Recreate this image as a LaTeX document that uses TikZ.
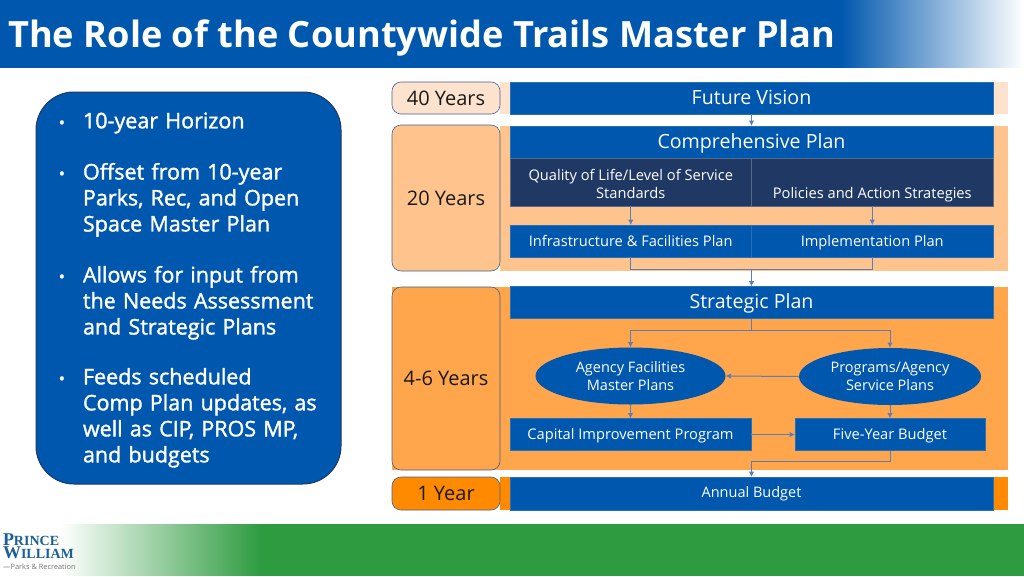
\documentclass[tikz,border=0pt]{standalone}
\usepackage{fontspec}
\setmainfont{Open Sans}
\newfontfamily\semib[FakeBold=1.5]{Open Sans}
\newfontfamily\logofont{Liberation Serif}
\usetikzlibrary{arrows.meta,shapes.geometric}
\definecolor{pwblue}{HTML}{0057AE}
\definecolor{pwdark}{HTML}{1F3864}
\definecolor{pwgreen}{HTML}{2E9B40}
\definecolor{linkc}{HTML}{5B7DB8}
\definecolor{logoc}{HTML}{1A5F96}
\definecolor{lbandA}{HTML}{FDE3CE}
\definecolor{lbandB}{HTML}{FFC48E}
\definecolor{lbandC}{HTML}{FFA54C}
\definecolor{lbandD}{HTML}{FF8A00}
\newcommand\hs[2]{\rule[-#2pt]{0pt}{\dimexpr #1pt+#2pt\relax}}
\tikzset{
  x=1pt,y=-1pt,
  sq/.style={rectangle,inner sep=0pt,outer sep=0pt,align=center,text=white,anchor=center},
  bluebox/.style={sq,fill=pwblue,draw=pwblue!85!white,line width=.3pt},
  darkbox/.style={sq,fill=pwdark,draw=pwdark!75!white,line width=.3pt},
  timebox/.style={rectangle,rounded corners=9pt,draw=linkc!75!black,line width=.6pt,inner sep=0pt,outer sep=0pt,
    minimum width=108pt,text=black!90,font=\fontsize{20}{24}\selectfont},
  plan/.style={ellipse,fill=pwblue,inner sep=0pt,outer sep=0pt,text=white,align=center,font=\fontsize{14.5}{18}\selectfont},
  link/.style={draw=linkc,line width=1pt},
  linka/.style={link,-{Latex[length=5.5pt,width=5.5pt]}},
  bl/.style={anchor=north west,inner sep=0pt,outer sep=0pt,text=white,align=left,text width=250pt,
    font=\semib\fontsize{21.5}{26}\selectfont},
  dot/.style={anchor=base,inner sep=0pt,text=white,font=\fontsize{18}{20}\selectfont},
  big/.style={font=\fontsize{19.6}{23}\selectfont},
  mid/.style={font=\fontsize{14.65}{18}\selectfont}
}
\begin{document}
\begin{tikzpicture}
\useasboundingbox (0,0) rectangle (1024,576);
\fill[white] (0,0) rectangle (1024,576);
% header
\fill[pwblue] (0,0) rectangle (841,68);
\begin{scope}
\clip (840,0) rectangle (1024,67.6);
\fill[left color=pwblue,right color=white] (840,-2) rectangle (1024,70);
\end{scope}
\node[anchor=base west,inner sep=0pt,text=white,font=\bfseries\fontsize{36.2}{40}\selectfont] (title) at (8,47) {The Role of the Countywide Trails Master Plan};
% footer
\fill[pwgreen] (260,524) rectangle (1024,576);
\begin{scope}
\clip (60,524) rectangle (261,575.6);
\fill[left color=white,right color=pwgreen] (60,522) rectangle (261,578);
\end{scope}
\node[anchor=north west,inner sep=0pt,outer sep=0pt,align=left,text=logoc,font=\logofont\bfseries\fontsize{18}{13}\selectfont] (lga) at (3,534) {P{\fontsize{14}{13}\selectfont RINCE}\\W{\fontsize{14}{13}\selectfont ILLIAM}};
\node[anchor=base west,inner sep=0pt,text=black!55,font=\fontsize{7.4}{8}\selectfont] (lgc) at (3,569.5) {—Parks \& Recreation};
% left panel
\draw[fill=pwblue,draw=pwdark,line width=1pt,rounded corners=38pt] (36,92) rectangle (341,484);
\node[bl] (b1) at (83,112.5) {10-year Horizon};
\node[bl] (b2) at (83,163) {Offset from 10-year\\Parks, Rec, and Open\\Space Master Plan};
\node[bl] (b3) at (83,266) {Allows for input from\\the Needs Assessment\\and Strategic Plans};
\node[bl] (b4) at (83,368) {Feeds scheduled\\Comp Plan updates, as\\well as CIP, PROS MP,\\and budgets};
\node[dot] (d1) at (62,129) {•};
\node[dot] (d2) at (62,180) {•};
\node[dot] (d3) at (62,283) {•};
\node[dot] (d4) at (62,385) {•};
% bands
\fill[lbandA] (500,82) rectangle (1008,114);
\fill[lbandB] (500,126) rectangle (1008,271);
\fill[lbandC] (392,287) rectangle (1008,470);
\fill[lbandD] (500,477) rectangle (1008,510);
% time boxes
\node[timebox,fill=lbandA,minimum height=32pt] (t40) at (446,98) {40 Years};
\node[timebox,fill=lbandB,minimum height=146pt] (t20) at (446,198) {20 Years};
\node[timebox,fill=lbandC,minimum height=183pt] (t46) at (446,378.5) {4-6 Years};
\node[timebox,fill=lbandD,minimum height=33pt] (t1) at (446,493.5) {1 Year};
% boxes
\node[bluebox,big,minimum width=483pt,minimum height=32pt] (fv) at (751.5,98) {\hs{20}{7}Future Vision};
\node[bluebox,big,minimum width=483pt,minimum height=32pt] (cp) at (751.5,142) {\hs{20}{7}Comprehensive Plan};
\node[darkbox,mid,minimum width=241.5pt,minimum height=48pt] (ql) at (630.75,182) {\hs{20.6}{0}Quality of Life/Level of Service\\\hs{0}{5.4}Standards};
\node[darkbox,mid,minimum width=241.5pt,minimum height=48pt] (pa) at (872.25,182) {\hs{20.6}{0}\\\hs{0}{5.4}Policies and Action Strategies};
\node[bluebox,mid,minimum width=241.5pt,minimum height=32pt] (ifp) at (630.75,241) {\hs{16.6}{5.4}Infrastructure \& Facilities Plan};
\node[bluebox,mid,minimum width=241.5pt,minimum height=32pt] (imp) at (872.25,241) {\hs{16.6}{5.4}Implementation Plan};
\node[bluebox,big,minimum width=483pt,minimum height=32pt] (sp) at (751.5,302.5) {\hs{18}{7}Strategic Plan};
\node[plan,minimum width=190pt,minimum height=57pt] (af) at (630.5,376) {Agency Facilities\\Master Plans};
\node[plan,minimum width=182pt,minimum height=57pt] (pr) at (890,376.5) {Programs/Agency\\Service Plans};
\node[bluebox,mid,minimum width=241pt,minimum height=32pt] (cip) at (630.5,434.5) {\hs{14.6}{5.4}Capital Improvement Program};
\node[bluebox,mid,minimum width=190pt,minimum height=32pt] (fy) at (890,434.5) {\hs{14.6}{5.4}Five-Year Budget};
\node[bluebox,font=\fontsize{14.5}{18}\selectfont,minimum width=483pt,minimum height=33pt] (ab) at (751.5,493.5) {Annual Budget\strut};
\coordinate (j1) at (751.5,269);
\coordinate (j2) at (751.5,330);
\coordinate (j3) at (751.5,461);
% connectors
\draw[linka] (fv.south) -- (cp.north);
\draw[linka] (ql.south) -- (ifp.north);
\draw[linka] (pa.south) -- (imp.north);
\draw[link] (ifp.south) |- (j1);
\draw[link] (imp.south) |- (j1);
\draw[linka] (j1) -- (sp.north);
\draw[link] (sp.south) -- (j2);
\draw[linka] (j2) -| (af.north);
\draw[linka] (j2) -| (pr.north);
\draw[linka] (pr.west) -- (af.east);
\draw[linka] (af.south) -- (af.south |- cip.north);
\draw[linka] (pr.south) -- (pr.south |- fy.north);
\draw[linka] (cip.east) -- (fy.west);
\draw[link] (fy.south) |- (j3);
\draw[linka] (j3) -- (ab.north -| j3);
\end{tikzpicture}
\end{document}
